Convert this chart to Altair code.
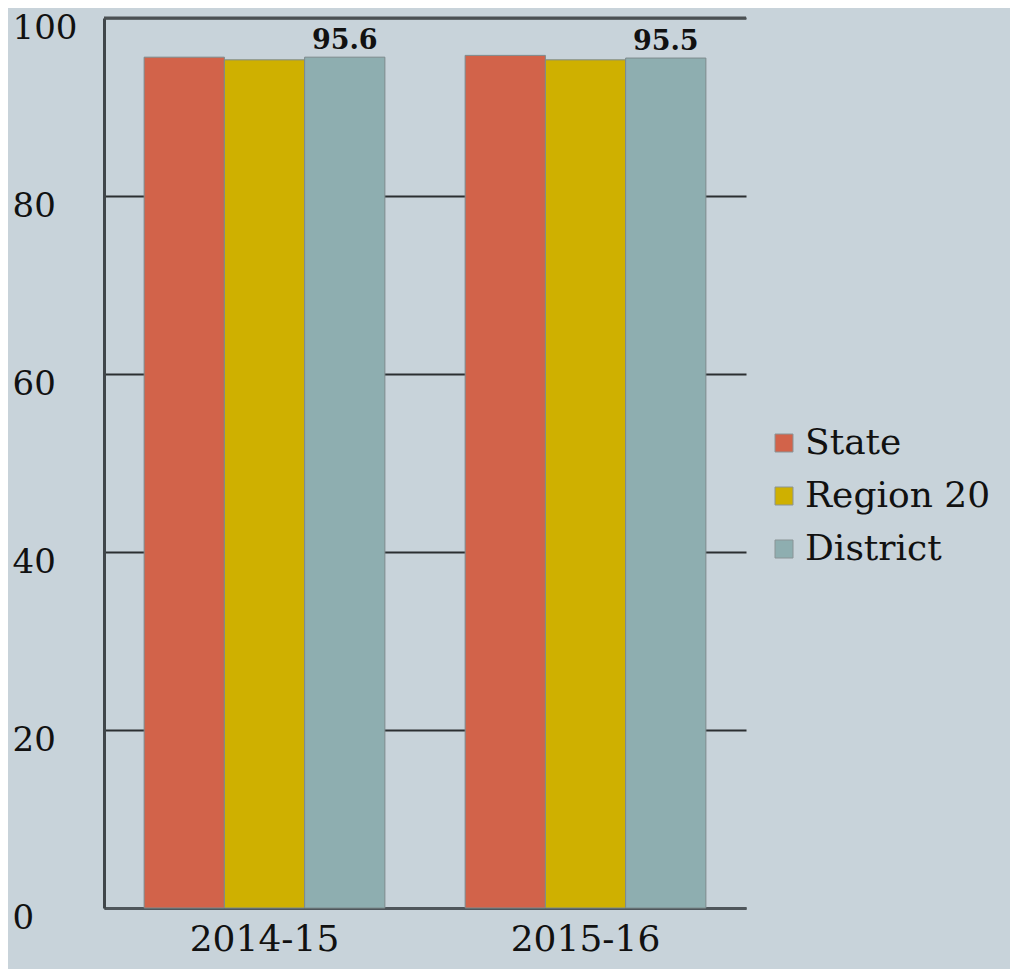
import altair as alt
import pandas as pd

years = ["2014-15", "2015-16"]
series = ["State", "Region 20", "District"]
state_vals = [95.6, 95.8]
region_vals = [95.3, 95.3]
district_vals = [95.6, 95.5]
colors = ["#d2634a", "#cfb000", "#8eaeb0"]

rows = []
for i, y in enumerate(years):
    for s, vals in zip(series, [state_vals, region_vals, district_vals]):
        rows.append({"year": y, "series": s, "value": vals[i]})
df = pd.DataFrame(rows)

FONT = "DejaVu Serif"

base = alt.Chart(df).encode(
    x=alt.X("year:N", sort=years, title=None,
            scale=alt.Scale(paddingInner=0.25, paddingOuter=0.125),
            axis=alt.Axis(labelAngle=0, labelFont=FONT, labelFontSize=36,
                          labelColor="#111111", ticks=False, labelPadding=14,
                          domainColor="#4f565b", domainWidth=3, grid=False)),
    xOffset=alt.XOffset("series:N", sort=series),
)

bars = base.mark_bar(stroke="#7d8a8c", strokeWidth=1).encode(
    y=alt.Y("value:Q", title=None,
            scale=alt.Scale(domain=[0, 100], nice=False),
            axis=alt.Axis(values=[0, 20, 40, 60, 80, 100], labelFont=FONT,
                          labelFontSize=34, labelColor="#111111", ticks=False,
                          labelAlign="left", labelPadding=92, labelOffset=10,
                          labelBaseline="middle",
                          domainColor="#40464a", domainWidth=3,
                          grid=True, gridColor="#2b2f31", gridWidth=2)),
    color=alt.Color("series:N", sort=series,
                    scale=alt.Scale(domain=series, range=colors),
                    legend=alt.Legend(title=None, orient="none", legendX=662,
                                      legendY=407, symbolType="square",
                                      symbolSize=324, symbolStrokeColor="#8a9496",
                                      symbolStrokeWidth=1, labelFont=FONT,
                                      labelFontSize=36, labelColor="#111111",
                                      labelOffset=3, rowPadding=17,
                                      labelLimit=400)),
)

labels = base.transform_filter(alt.datum.series == "District").mark_text(
    font=FONT, fontSize=27, fontWeight="bold", color="#111111",
    baseline="bottom", dy=-2,
).encode(
    y=alt.Y("value:Q"),
    text=alt.Text("value:Q", format=".1f"),
)

top_rule = alt.Chart(pd.DataFrame({"v": [100]})).mark_rule(
    color="#4b5053", strokeWidth=3
).encode(y="v:Q")

chart = alt.layer(bars, labels, top_rule).properties(
    width=642, height=890,
    background="#c8d3da",
    padding={"left": 96, "top": 10, "right": 264, "bottom": 61},
    autosize=alt.AutoSizeParams(type="none"),
).configure_view(stroke=None)

chart.save("out.html", embed_options={"renderer": "svg", "actions": False})
